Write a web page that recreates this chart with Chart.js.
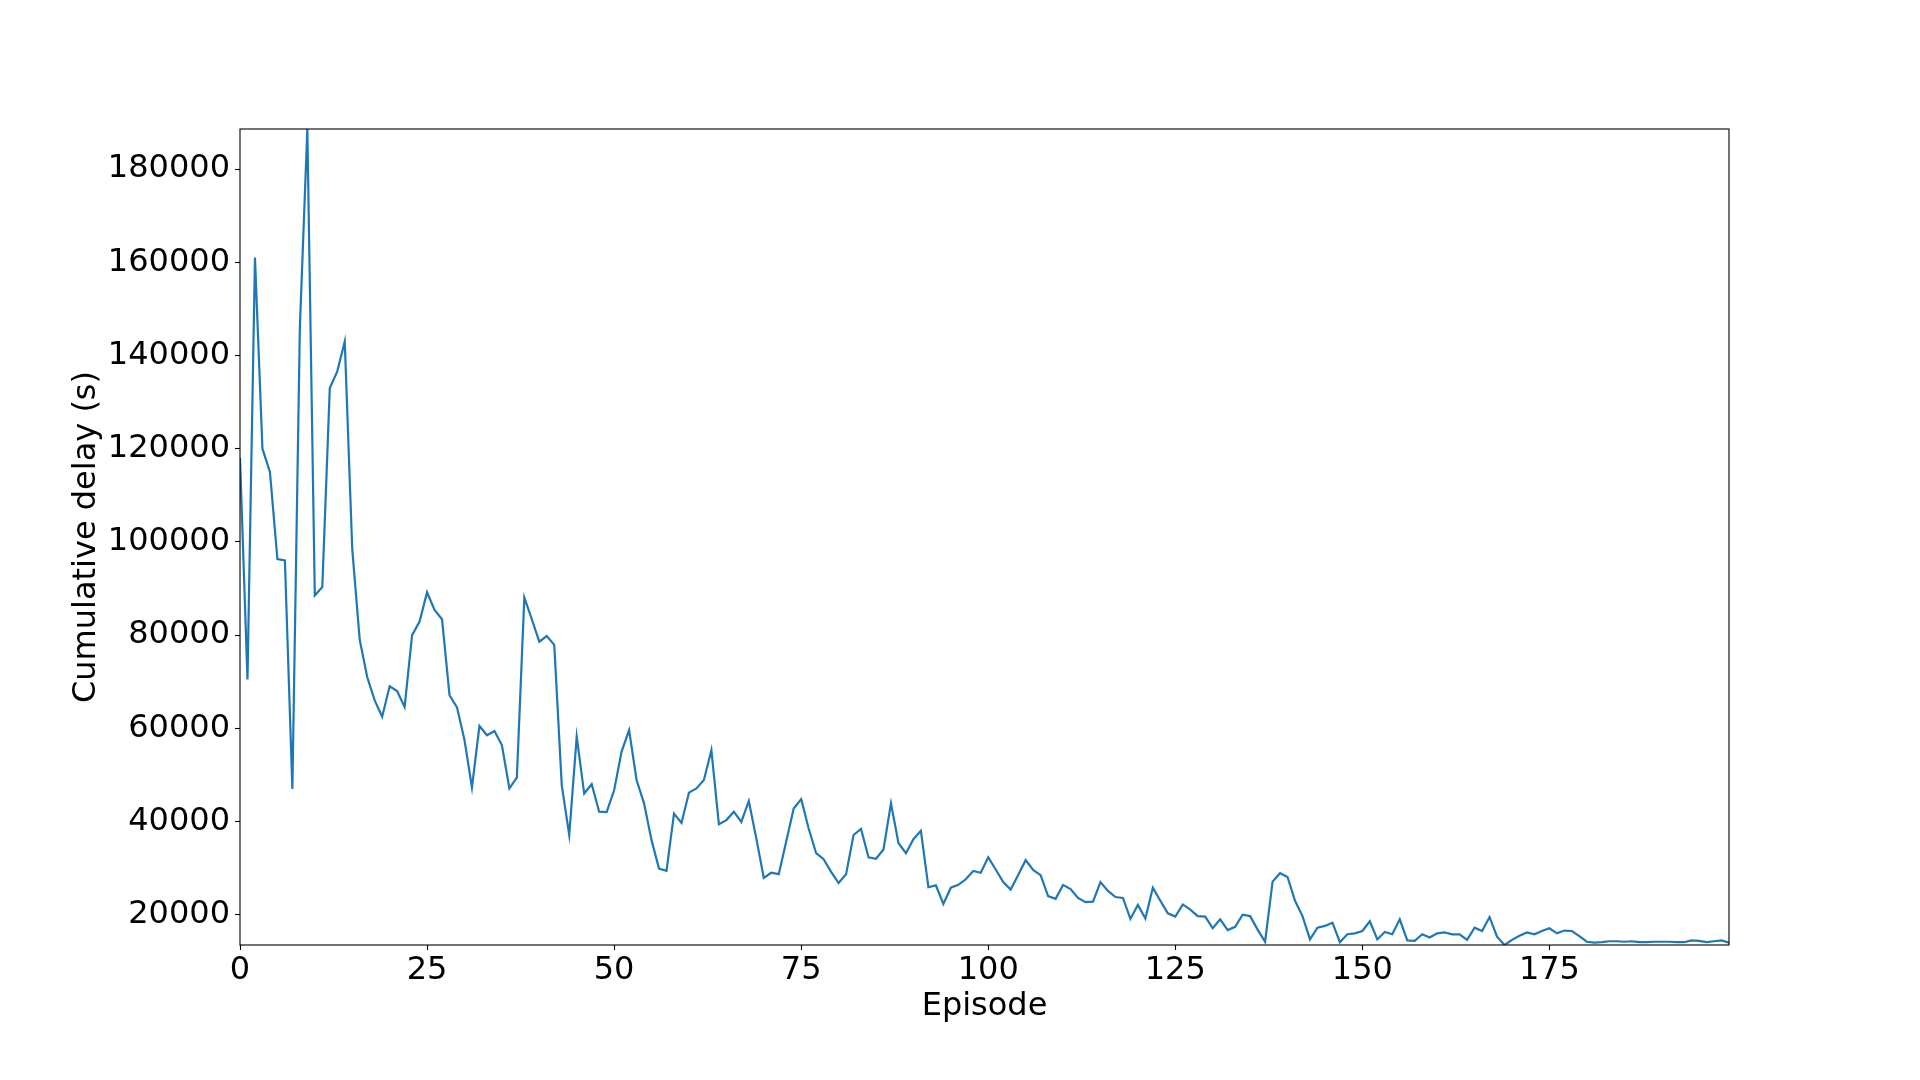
<!DOCTYPE html>
<html>
<head>
<meta charset="utf-8">
<script src="https://cdn.jsdelivr.net/npm/chart.js@4.4.1/dist/chart.umd.min.js"></script>
<style>
  html, body { margin: 0; padding: 0; background: #fff; }
  #wrap { width: 1920px; height: 1080px; }
</style>
</head>
<body>
<div id="wrap"><canvas id="c" width="1920" height="1080"></canvas></div>
<script>
const episodes = Array.from({length: 200}, (_, i) => i);
const delays = [
  118000, 70500, 161000, 120000, 115000, 96300, 96000, 47000, 146000, 188600,
  88500, 90300, 133000, 136600, 143000, 98500, 79000, 71000, 66000, 62500,
  69000, 68000, 64600, 80000, 82900, 89200, 85400, 83400, 67100, 64500,
  57500, 47300, 60500, 58500, 59400, 56400, 47100, 49400, 88100, 83400,
  78600, 79800, 77900, 47800, 37100, 58200, 46000, 48000, 42100, 42000,
  46700, 55000, 59600, 48900, 43900, 36000, 29900, 29400, 41700, 39700,
  46200, 47100, 48900, 55300, 39400, 40300, 42100, 39900, 44400, 36400,
  27900, 29000, 28700, 35700, 42800, 44800, 38500, 33200, 31900, 29200,
  26800, 28700, 37100, 38400, 32300, 32000, 34000, 43900, 35400, 33200,
  36200, 38000, 25900, 26300, 22300, 25800, 26400, 27600, 29400, 29000,
  32300, 29700, 27000, 25400, 28500, 31700, 29600, 28500, 24000, 23400,
  26400, 25500, 23600, 22700, 22800, 27000, 25100, 23800, 23600, 19100,
  22100, 19200, 25800, 23000, 20300, 19600, 22200, 21100, 19700, 19600,
  17100, 19000, 16700, 17400, 20000, 19700, 16800, 14200, 27100, 28900,
  28100, 23000, 19700, 14700, 17200, 17600, 18300, 14100, 15800, 16000,
  16500, 18600, 14700, 16300, 15800, 19000, 14500, 14400, 15800, 15100,
  16000, 16200, 15800, 15800, 14600, 17200, 16500, 19500, 15300, 13500,
  14600, 15500, 16200, 15800, 16500, 17100, 16000, 16600, 16500, 15400,
  14200, 14000, 14100, 14300, 14300, 14200, 14300, 14100, 14100, 14200,
  14200, 14200, 14100, 14100, 14500, 14400, 14100, 14300, 14500, 14000
];
const xTicks = [0, 25, 50, 75, 100, 125, 150, 175];
const yTicks = [20000, 40000, 60000, 80000, 100000, 120000, 140000, 160000, 180000];
const xLabel = 'Episode';
const yLabel = 'Cumulative delay (s)';

const FONT = { family: '"DejaVu Sans", sans-serif', size: 32 };

const framePlugin = {
  id: 'frame',
  afterDatasetsDraw(chart) {
    const {ctx, chartArea: a} = chart;
    ctx.save();
    ctx.strokeStyle = '#000';
    ctx.lineWidth = 1.1;
    ctx.strokeRect(a.left, a.top, a.right - a.left, a.bottom - a.top);
    ctx.restore();
  }
};

new Chart(document.getElementById('c'), {
  type: 'line',
  data: {
    datasets: [{
      data: episodes.map((e, i) => ({x: e, y: delays[i]})),
      borderColor: '#1f77b4',
      borderWidth: 2.2,
      pointRadius: 0,
      tension: 0,
      fill: false
    }]
  },
  options: {
    responsive: false,
    animation: false,
    devicePixelRatio: 1,
    layout: { padding: { left: 0, right: 191, top: 129, bottom: 0 } },
    plugins: { legend: { display: false }, tooltip: { enabled: false } },
    scales: {
      x: {
        type: 'linear',
        min: episodes[0],
        max: episodes[episodes.length - 1],
        afterBuildTicks: s => { s.ticks = xTicks.map(v => ({value: v})); },
        afterFit: s => { s.height = 135; },
        border: { display: false },
        grid: { drawOnChartArea: false, drawTicks: true, tickLength: 5, tickColor: '#000', tickWidth: 1.1 },
        ticks: { color: '#000', font: FONT, padding: 1, maxRotation: 0, autoSkip: false },
        title: { display: true, text: xLabel, color: '#000', font: FONT, padding: { top: 0, bottom: 54 } }
      },
      y: {
        type: 'linear',
        min: Math.min(...delays),
        max: Math.max(...delays),
        afterBuildTicks: s => { s.ticks = yTicks.map(v => ({value: v})); },
        afterFit: s => { s.width = 240; },
        border: { display: false },
        grid: { drawOnChartArea: false, drawTicks: true, tickLength: 5, tickColor: '#000', tickWidth: 1.1 },
        ticks: { color: '#000', font: FONT, padding: 5, autoSkip: false, callback: v => String(v) },
        title: { display: true, text: yLabel, color: '#000', font: FONT, padding: { top: 67, bottom: 0 } }
      }
    }
  },
  plugins: [framePlugin]
});
</script>
</body>
</html>
